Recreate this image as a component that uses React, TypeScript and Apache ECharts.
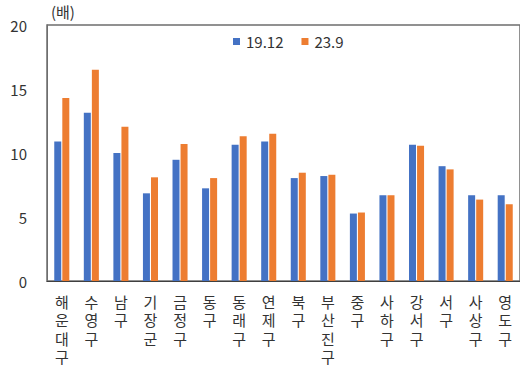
import React, { useEffect, useRef } from "react";
import * as echarts from "echarts";

const categories = ["해운대구", "수영구", "남구", "기장군", "금정구", "동구", "동래구", "연제구", "북구", "부산진구", "중구", "사하구", "강서구", "서구", "사상구", "영도구"];
const series1912 = [10.9, 13.15, 10.0, 6.85, 9.47, 7.24, 10.64, 10.9, 8.04, 8.2, 5.27, 6.7, 10.64, 8.97, 6.7, 6.7];
const series239 = [14.3, 16.5, 12.06, 8.1, 10.7, 8.04, 11.3, 11.5, 8.46, 8.3, 5.35, 6.7, 10.56, 8.72, 6.36, 6.0];
const seriesNames = ["19.12", "23.9"];
const yTicks = [0, 5, 10, 15, 20];

const FONT = "'Noto Sans CJK KR', 'Noto Sans', sans-serif";

export default function App() {
  const ref = useRef<HTMLDivElement>(null);
  useEffect(() => {
    if (!ref.current) return;
    const chart = echarts.init(ref.current, undefined, { renderer: "svg" });
    chart.setOption({
      animation: false,
      backgroundColor: "#ffffff",
      textStyle: { fontFamily: FONT },
      grid: { left: 47, top: 25, right: -1, bottom: 87, show: true, borderColor: "#6e6e6e", borderWidth: 1.5, backgroundColor: "transparent" },
      legend: {
        left: 228,
        top: 29,
        itemWidth: 7,
        itemHeight: 7,
        itemGap: 18,
        icon: "rect",
        textStyle: { fontSize: 15, color: "#333", fontFamily: FONT, padding: [0, 0, 0, 1] },
        data: seriesNames,
      },
      graphic: [
        { type: "text", left: 51, top: 4, style: { text: "(배)", fontSize: 15, fill: "#333", fontFamily: FONT } },
      ],
      xAxis: {
        type: "category",
        data: categories,
        axisLine: { show: true, lineStyle: { color: "#404040", width: 1 } },
        axisTick: { show: false },
        axisLabel: {
          interval: 0,
          fontSize: 15,
          color: "#333",
          lineHeight: 18.5,
          margin: 11,
          fontFamily: FONT,
          formatter: (v: string) => v.split("").join("\n"),
        },
      },
      yAxis: {
        type: "value",
        min: yTicks[0],
        max: yTicks[yTicks.length - 1],
        interval: 5,
        axisLine: { show: true, lineStyle: { color: "#6e6e6e", width: 1 } },
        axisTick: { show: false },
        splitLine: { show: false },
        axisLabel: { fontSize: 15, color: "#333", margin: 20, fontFamily: FONT },
      },
      series: [
        { name: seriesNames[0], type: "bar", data: series1912, barWidth: 7, barGap: "15%", itemStyle: { color: "#4472C4" } },
        { name: seriesNames[1], type: "bar", data: series239, barWidth: 7, itemStyle: { color: "#ED7D31" } },
      ],
    });
    return () => chart.dispose();
  }, []);
  return <div ref={ref} style={{ width: 520, height: 368, position: "absolute", left: 0, top: 0 }} />;
}
